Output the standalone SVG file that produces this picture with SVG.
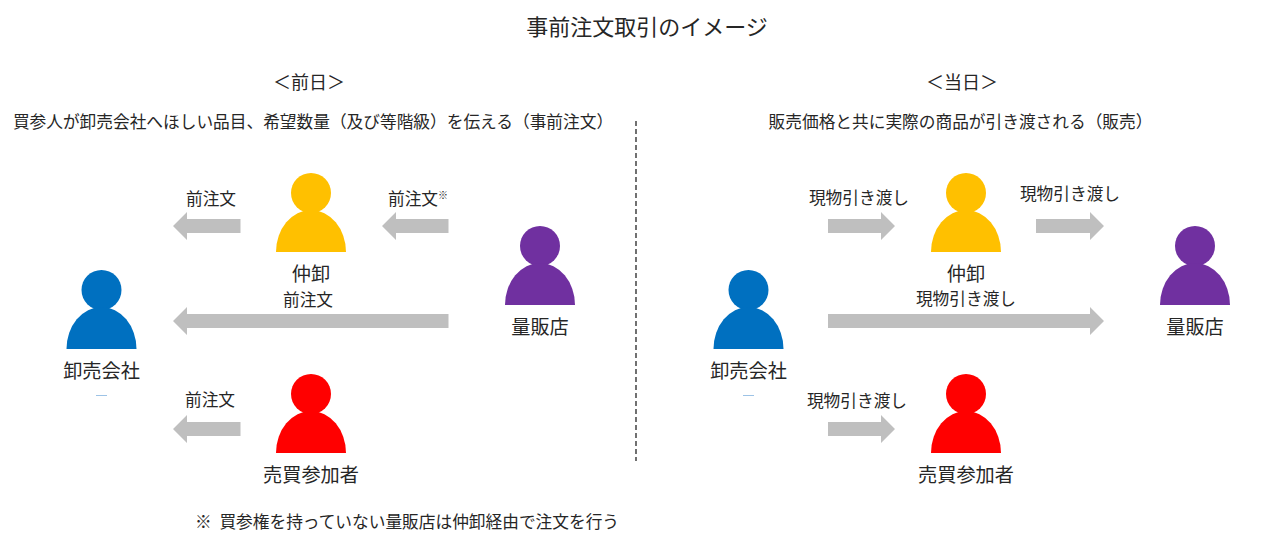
<svg xmlns="http://www.w3.org/2000/svg" width="1280" height="544" viewBox="0 0 1280 544">
<style>
text{font-family:"Noto Sans CJK JP","Noto Sans",sans-serif;fill:#262626;text-anchor:middle}
.t{font-size:22px}.h{font-size:18px}.s{font-size:16.700px}.n{font-size:19.200px}.l{font-size:16.700px}
.a{fill:#bfbfbf}
</style>
<defs>
<g id="p"><circle cx="0" cy="-39" r="20"/><path d="M-35 20A35 42 0 0 1 35 20Z"/></g>
</defs>
<rect width="1280" height="544" fill="#fff"/>
<text class="t" x="647" y="35">事前注文取引のイメージ</text>
<text class="h" x="309" y="89">＜前日＞</text>
<text class="h" x="962" y="89">＜当日＞</text>
<text class="s" x="313" y="128">買参人が卸売会社へほしい品目、希望数量（及び等階級）を伝える（事前注文）</text>
<text class="s" x="960.500" y="128">販売価格と共に実際の商品が引き渡される（販売）</text>
<text class="s" x="407" y="528" style="word-spacing:4px">※ 買参権を持っていない量販店は仲卸経由で注文を行う</text>
<line x1="636" y1="121" x2="636" y2="461" stroke="#262626" stroke-width="1.300" stroke-dasharray="5 3"/>
<g id="left-wholesaler" fill="#0070c0"><use href="#p" x="101.500" y="329"/><text class="n" x="101.500" y="378">卸売会社</text><path d="M96 395.500h11" stroke="#9dc3e6" stroke-width="1"/></g>
<g id="left-broker" fill="#ffc000"><use href="#p" x="311" y="232"/><text class="n" x="311" y="281">仲卸</text></g>
<g id="left-retailer" fill="#7030a0"><use href="#p" x="540" y="285"/><text class="n" x="540" y="334">量販店</text></g>
<g id="left-trader" fill="#ff0000"><use href="#p" x="311" y="433"/><text class="n" x="311" y="482">売買参加者</text></g>
<g id="right-wholesaler" fill="#0070c0"><use href="#p" x="748.500" y="329"/><text class="n" x="748.500" y="378">卸売会社</text><path d="M743 395.500h11" stroke="#9dc3e6" stroke-width="1"/></g>
<g id="right-broker" fill="#ffc000"><use href="#p" x="966" y="232"/><text class="n" x="966" y="281">仲卸</text></g>
<g id="right-retailer" fill="#7030a0"><use href="#p" x="1195" y="285"/><text class="n" x="1195" y="334">量販店</text></g>
<g id="right-trader" fill="#ff0000"><use href="#p" x="966" y="433"/><text class="n" x="966" y="482">売買参加者</text></g>
<g id="connectors">
<path class="a" d="M173 226l14-14v7h53.500v14h-53.500v7z"/>
<path class="a" d="M382 226l14-14v7h52.500v14h-52.500v7z"/>
<path class="a" d="M173 321l14-14v7h261.500v14H187v7z"/>
<path class="a" d="M173 429l14-14v7h53.500v14h-53.500v7z"/>
<path class="a" d="M895 226l-14-14v7h-53v14h53v7z"/>
<path class="a" d="M1104 226l-14-14v7h-54v14h54v7z"/>
<path class="a" d="M1104 321l-14-14v7H828v14h262v7z"/>
<path class="a" d="M895 429l-14-14v7h-53v14h53v7z"/>
<text class="l" x="211" y="205">前注文</text>
<text class="l" x="413" y="205">前注文</text>
<text x="443" y="199" style="font-size:10px">※</text>
<text class="l" x="308" y="306">前注文</text>
<text class="l" x="210" y="406">前注文</text>
<text class="l" x="859" y="204">現物引き渡し</text>
<text class="l" x="1070" y="200">現物引き渡し</text>
<text class="l" x="966" y="305">現物引き渡し</text>
<text class="l" x="857" y="407">現物引き渡し</text>
</g>
</svg>
